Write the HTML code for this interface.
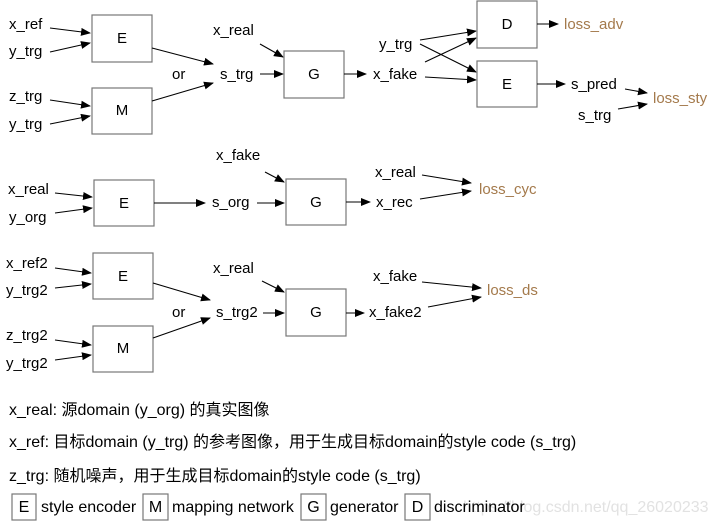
<!DOCTYPE html>
<html><head><meta charset="utf-8"><style>
html,body{margin:0;padding:0;background:#fff;}
svg{display:block;font-family:"Liberation Sans","Noto Sans CJK SC",sans-serif;}
text{font-size:15px;fill:#000;dominant-baseline:middle;}
.g text,text.g{font-size:16px;}
.l{fill:#a47a4c;}
rect{fill:#fff;stroke:#777;stroke-width:1.2;}
line{stroke:#000;stroke-width:1.1;marker-end:url(#a);}
</style></head><body>
<svg width="717" height="523" viewBox="0 0 717 523">
<defs><marker id="a" markerWidth="10" markerHeight="8" refX="9" refY="4" orient="auto" markerUnits="userSpaceOnUse"><path d="M0,0 L10,4 L0,8 z" fill="#000"/></marker></defs>
<!-- Row 1 -->
<text x="9" y="25">x_ref</text>
<text x="9" y="52">y_trg</text>
<text x="9" y="97">z_trg</text>
<text x="9" y="125">y_trg</text>
<rect x="92" y="15" width="60" height="47"/><text x="122" y="39" text-anchor="middle">E</text>
<rect x="92" y="88" width="60" height="46"/><text x="122" y="111" text-anchor="middle">M</text>
<line x1="50" y1="28" x2="90" y2="33"/>
<line x1="50" y1="52" x2="90" y2="43"/>
<line x1="50" y1="100" x2="90" y2="106"/>
<line x1="50" y1="124" x2="90" y2="116"/>
<line x1="152" y1="48" x2="213" y2="64"/>
<line x1="152" y1="101" x2="213" y2="83"/>
<text x="172" y="75">or</text>
<text x="220" y="75">s_trg</text>
<line x1="260" y1="74" x2="283" y2="74"/>
<text x="213" y="31">x_real</text>
<line x1="260" y1="44" x2="283" y2="57"/>
<rect x="284" y="51" width="60" height="47"/><text x="314" y="75" text-anchor="middle">G</text>
<line x1="344" y1="74" x2="366" y2="74"/>
<text x="373" y="75">x_fake</text>
<text x="379" y="45">y_trg</text>
<line x1="420" y1="40" x2="476" y2="31"/>
<line x1="420" y1="44" x2="476" y2="72"/>
<line x1="425" y1="62" x2="476" y2="38"/>
<line x1="425" y1="77" x2="476" y2="80"/>
<rect x="477" y="1" width="60" height="47"/><text x="507" y="25" text-anchor="middle">D</text>
<rect x="477" y="61" width="60" height="46"/><text x="507" y="85" text-anchor="middle">E</text>
<line x1="537" y1="24" x2="558" y2="24"/>
<text class="l" x="564" y="25">loss_adv</text>
<line x1="537" y1="84" x2="565" y2="84"/>
<text x="571" y="85">s_pred</text>
<text x="578" y="116">s_trg</text>
<line x1="625" y1="89" x2="647" y2="93"/>
<line x1="618" y1="109" x2="647" y2="104"/>
<text class="l" x="653" y="99">loss_sty</text>
<!-- Row 2 -->
<text x="8" y="190">x_real</text>
<text x="9" y="218">y_org</text>
<rect x="94" y="180" width="60" height="46"/><text x="124" y="204" text-anchor="middle">E</text>
<line x1="55" y1="193" x2="92" y2="197"/>
<line x1="55" y1="213" x2="92" y2="208"/>
<line x1="154" y1="203" x2="205" y2="203"/>
<text x="212" y="203">s_org</text>
<line x1="257" y1="203" x2="284" y2="203"/>
<text x="216" y="156">x_fake</text>
<line x1="265" y1="172" x2="284" y2="182"/>
<rect x="286" y="179" width="60" height="46"/><text x="316" y="203" text-anchor="middle">G</text>
<line x1="346" y1="202" x2="370" y2="202"/>
<text x="376" y="203">x_rec</text>
<text x="375" y="173">x_real</text>
<line x1="422" y1="175" x2="471" y2="183"/>
<line x1="420" y1="199" x2="471" y2="191"/>
<text class="l" x="479" y="190">loss_cyc</text>
<!-- Row 3 -->
<text x="6" y="264">x_ref2</text>
<text x="6" y="291">y_trg2</text>
<text x="6" y="336">z_trg2</text>
<text x="6" y="364">y_trg2</text>
<rect x="93" y="253" width="60" height="46"/><text x="123" y="277" text-anchor="middle">E</text>
<rect x="93" y="326" width="60" height="46"/><text x="123" y="349" text-anchor="middle">M</text>
<line x1="55" y1="268" x2="91" y2="273"/>
<line x1="55" y1="288" x2="91" y2="284"/>
<line x1="55" y1="340" x2="91" y2="345"/>
<line x1="55" y1="360" x2="91" y2="355"/>
<line x1="153" y1="283" x2="210" y2="300"/>
<line x1="153" y1="338" x2="210" y2="318"/>
<text x="172" y="313">or</text>
<text x="216" y="313">s_trg2</text>
<line x1="263" y1="313" x2="284" y2="313"/>
<text x="213" y="269">x_real</text>
<line x1="262" y1="281" x2="284" y2="292"/>
<rect x="286" y="289" width="60" height="47"/><text x="316" y="313" text-anchor="middle">G</text>
<line x1="346" y1="313" x2="364" y2="313"/>
<text x="369" y="313">x_fake2</text>
<text x="373" y="277">x_fake</text>
<line x1="422" y1="282" x2="481" y2="288"/>
<line x1="428" y1="307" x2="481" y2="297"/>
<text class="l" x="487" y="291">loss_ds</text>
<!-- Legend -->
<g class="g">
<text x="9" y="411">x_real: 源domain (y_org) 的真实图像</text>
<text x="9" y="443">x_ref: 目标domain (y_trg) 的参考图像，用于生成目标domain的style code (s_trg)</text>
<text x="9" y="477">z_trg: 随机噪声，用于生成目标domain的style code (s_trg)</text>
<text x="463" y="508" style="fill:#e2e2e2">https://blog.csdn.net/qq_26020233</text>
<rect x="12" y="494" width="24" height="26" style="fill:none"/><text x="24" y="508" text-anchor="middle">E</text>
<text x="41" y="508">style encoder</text>
<rect x="143" y="494" width="25" height="26" style="fill:none"/><text x="155.5" y="508" text-anchor="middle">M</text>
<text x="172" y="508">mapping network</text>
<rect x="301" y="494" width="25" height="26" style="fill:none"/><text x="313.5" y="508" text-anchor="middle">G</text>
<text x="330" y="508">generator</text>
<rect x="405" y="494" width="25" height="26" style="fill:none"/><text x="417.5" y="508" text-anchor="middle">D</text>
<text x="434" y="508">discriminator</text>
</g>
</svg>
</body></html>
